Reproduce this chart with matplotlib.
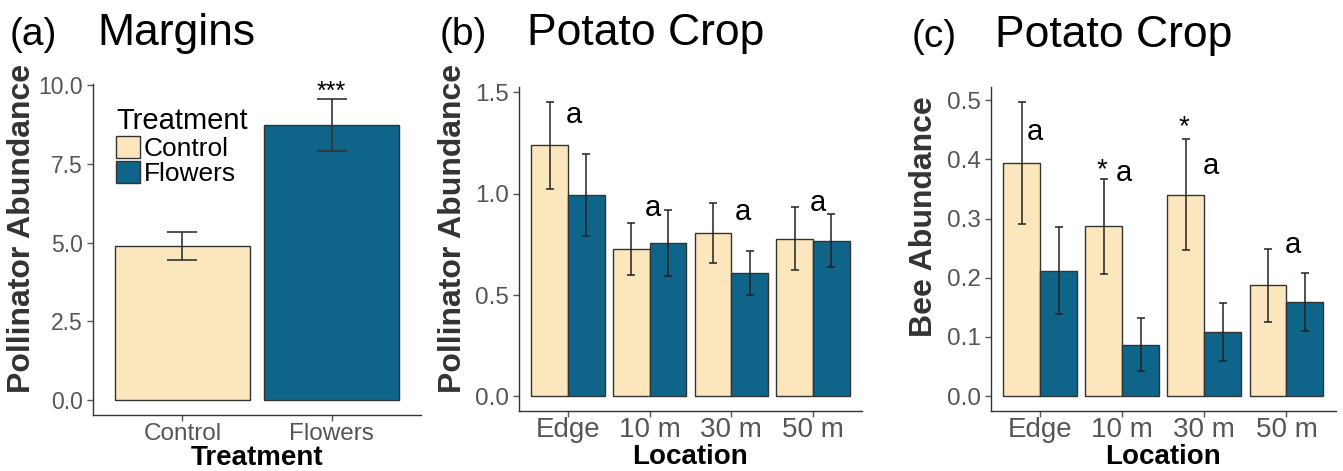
import numpy as np
import matplotlib
matplotlib.use('Agg')
import matplotlib.pyplot as plt
from matplotlib.patches import Patch

plt.rcParams['font.family'] = ['Liberation Sans', 'DejaVu Sans']

CTRL_COL = '#FCE6BD'
FLW_COL = '#0E6589'
EDGE_COL = '#333333'
TICK_COL = '#555555'

# (a) margins
margin_groups = ['Control', 'Flowers']
margin_mean = [4.88, 8.75]
margin_lo = [4.46, 7.92]
margin_hi = [5.35, 9.56]

# (b) pollinators in the crop
locations = ['Edge', '10 m', '30 m', '50 m']
poll_ctrl = [1.24, 0.728, 0.805, 0.777]
poll_ctrl_lo = [1.025, 0.60, 0.658, 0.625]
poll_ctrl_hi = [1.454, 0.857, 0.956, 0.933]
poll_flw = [0.995, 0.757, 0.608, 0.768]
poll_flw_lo = [0.79, 0.593, 0.50, 0.64]
poll_flw_hi = [1.195, 0.92, 0.717, 0.90]
poll_letters = ['a', 'a', 'a', 'a']
poll_letter_y = [1.347, 0.888, 0.872, 0.913]
poll_letter_dx = [0.07, 0.04, 0.14, 0.06]

# (c) bees in the crop
bee_ctrl = [0.394, 0.287, 0.340, 0.188]
bee_ctrl_lo = [0.291, 0.207, 0.247, 0.126]
bee_ctrl_hi = [0.497, 0.366, 0.435, 0.249]
bee_flw = [0.212, 0.087, 0.108, 0.159]
bee_flw_lo = [0.138, 0.043, 0.060, 0.110]
bee_flw_hi = [0.285, 0.132, 0.157, 0.208]
bee_letters = ['a', 'a', 'a', 'a']
bee_letter_y = [0.433, 0.364, 0.375, 0.241]
bee_letter_dx = [-0.07, 0.02, 0.08, 0.08]
bee_stars = ['', '*', '*', '']
bee_star_y = [0, 0.369, 0.442, 0]
bee_star_dx = [0, -0.25, -0.25, 0]


def style_axes(ax):
    for s in ['top', 'right']:
        ax.spines[s].set_visible(False)
    for s in ['left', 'bottom']:
        ax.spines[s].set_color(EDGE_COL)
        ax.spines[s].set_linewidth(1.0)
    ax.tick_params(colors=TICK_COL, labelcolor=TICK_COL, labelsize=16, length=4, width=1.0)


def err(mean, lo, hi):
    mean = np.array(mean)
    return np.vstack([mean - np.array(lo), np.array(hi) - mean])


fig = plt.figure(figsize=(13.43, 4.71), dpi=100)

# panel a
ax1 = fig.add_axes([0.0692, 0.1189, 0.2443, 0.7028])
xa = np.arange(1, len(margin_groups) + 1)
ax1.bar(xa, margin_mean, width=0.91, color=[CTRL_COL, FLW_COL], edgecolor=EDGE_COL, linewidth=1.0)
ax1.errorbar(xa, margin_mean, yerr=err(margin_mean, margin_lo, margin_hi), fmt='none',
             ecolor=EDGE_COL, elinewidth=1.2, capsize=11, capthick=1.2)
ax1.text(2, margin_hi[1], '***', ha='center', va='baseline', fontsize=18)
ax1.set_xlim(0.4, 2.6)
ax1.set_ylim(-0.478, 10.04)
ax1.set_yticks([0, 2.5, 5, 7.5, 10])
ax1.set_yticklabels(['0.0', '2.5', '5.0', '7.5', '10.0'])
ax1.set_xticks(xa)
ax1.set_xticklabels(margin_groups)
style_axes(ax1)
ax1.tick_params(axis='y', labelsize=16.5)
ax1.tick_params(axis='x', labelsize=17.5, pad=2)
handles = [Patch(facecolor=CTRL_COL, edgecolor=EDGE_COL, label='Control'),
           Patch(facecolor=FLW_COL, edgecolor=EDGE_COL, label='Flowers')]
leg = ax1.legend(handles=handles, title='Treatment', loc='upper left', bbox_to_anchor=(0.07, 0.93),
                 frameon=False, fontsize=19, title_fontsize=21, handlelength=0.9, handleheight=0.9,
                 handletextpad=0.15, labelspacing=0.02, borderpad=0, borderaxespad=0, alignment='left')

# panels b and c
def grouped(ax, ctrl, clo, chi, flw, flo, fhi, ylim, yticks, yticklabels):
    x = np.arange(1, len(locations) + 1)
    w = 0.45
    ax.bar(x - w / 2, ctrl, width=w, color=CTRL_COL, edgecolor=EDGE_COL, linewidth=1.0)
    ax.bar(x + w / 2, flw, width=w, color=FLW_COL, edgecolor=EDGE_COL, linewidth=1.0)
    ax.errorbar(x - w / 2, ctrl, yerr=err(ctrl, clo, chi), fmt='none', ecolor='#222222',
                elinewidth=1.1, capsize=3, capthick=1.1)
    ax.errorbar(x + w / 2, flw, yerr=err(flw, flo, fhi), fmt='none', ecolor='#222222',
                elinewidth=1.1, capsize=3, capthick=1.1)
    ax.set_xlim(0.4, 4.6)
    ax.set_ylim(*ylim)
    ax.set_yticks(yticks)
    ax.set_yticklabels(yticklabels)
    ax.set_xticks(x)
    ax.set_xticklabels(locations)
    style_axes(ax)
    ax.tick_params(axis='x', labelsize=20, pad=0)
    ax.tick_params(axis='y', labelsize=17.5)
    return x


ax2 = fig.add_axes([0.3865, 0.1274, 0.2553, 0.6879])
xb = grouped(ax2, poll_ctrl, poll_ctrl_lo, poll_ctrl_hi, poll_flw, poll_flw_lo, poll_flw_hi,
             (-0.0727, 1.527), [0, 0.5, 1.0, 1.5], ['0.0', '0.5', '1.0', '1.5'])
for xi, dx, yv, t in zip(xb, poll_letter_dx, poll_letter_y, poll_letters):
    ax2.text(xi + dx, yv, t, ha='center', va='baseline', fontsize=21)

ax3 = fig.add_axes([0.7379, 0.1274, 0.2567, 0.6879])
xc = grouped(ax3, bee_ctrl, bee_ctrl_lo, bee_ctrl_hi, bee_flw, bee_flw_lo, bee_flw_hi,
             (-0.0249, 0.522), [0, 0.1, 0.2, 0.3, 0.4, 0.5], ['0.0', '0.1', '0.2', '0.3', '0.4', '0.5'])
for xi, dx, yv, t in zip(xc, bee_letter_dx, bee_letter_y, bee_letters):
    ax3.text(xi + dx, yv, t, ha='center', va='baseline', fontsize=21)
for xi, dx, yv, t in zip(xc, bee_star_dx, bee_star_y, bee_stars):
    if t:
        ax3.text(xi + dx, yv, t, ha='center', va='baseline', fontsize=20)

# titles
for xl, xt, yb, lab, title in [(0.0074, 0.0722, 0.904, '(a)', 'Margins'),
                                (0.3276, 0.3924, 0.904, '(b)', 'Potato Crop'),
                                (0.679, 0.7409, 0.901, '(c)', 'Potato Crop')]:
    fig.text(xl, yb, lab, fontsize=28, va='baseline', ha='left')
    fig.text(xt, yb, title, fontsize=32, va='baseline', ha='left')

# axis labels
fig.text(22 / 1343, 1 - 228 / 471, 'Pollinator Abundance', rotation=90, ha='center', va='center',
         fontsize=23, fontweight='bold', color='#333333')
fig.text(453 / 1343, 1 - 228 / 471, 'Pollinator Abundance', rotation=90, ha='center', va='center',
         fontsize=23, fontweight='bold', color='#333333')
fig.text(924 / 1343, 1 - 217 / 471, 'Bee Abundance', rotation=90, ha='center', va='center',
         fontsize=23, fontweight='bold', color='#333333')
fig.text(257 / 1343, 1 - 465 / 471, 'Treatment', ha='center', va='baseline', fontsize=20, fontweight='bold')
fig.text(690 / 1343, 1 - 464 / 471, 'Location', ha='center', va='baseline', fontsize=20, fontweight='bold')
fig.text(1163 / 1343, 1 - 464 / 471, 'Location', ha='center', va='baseline', fontsize=20, fontweight='bold')

fig.savefig('out.png', dpi=100)
